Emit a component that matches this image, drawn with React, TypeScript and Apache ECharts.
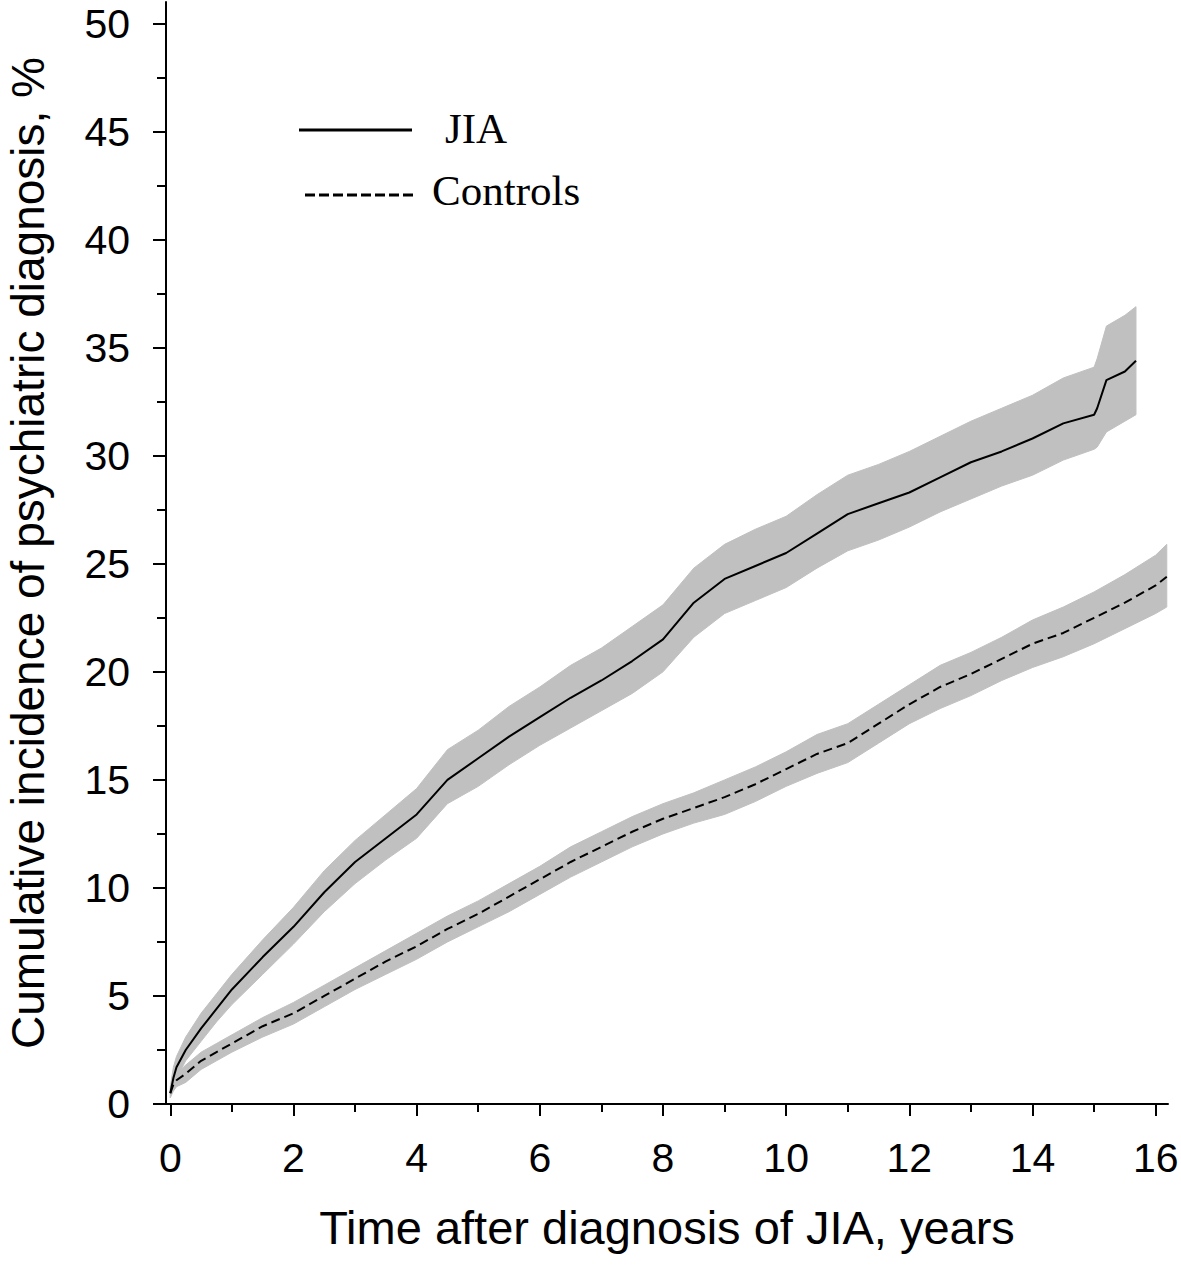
import React, { useEffect, useRef } from "react";
import * as echarts from "echarts";

// ---- Data ----
const jiaTimes = [0, 0.05, 0.1, 0.25, 0.5, 0.75, 1, 1.5, 2, 2.5, 3, 3.5, 4, 4.5, 5, 5.5, 6, 6.5, 7, 7.5, 8, 8.5, 9, 9.5, 10, 10.5, 11, 11.5, 12, 12.5, 13, 13.5, 14, 14.5, 15, 15.05, 15.2, 15.5, 15.68];
const jiaValues = [0.5, 1.2, 1.7, 2.5, 3.5, 4.4, 5.3, 6.8, 8.2, 9.8, 11.2, 12.3, 13.4, 15.0, 16.0, 17.0, 17.9, 18.8, 19.6, 20.5, 21.5, 23.2, 24.3, 24.9, 25.5, 26.4, 27.3, 27.8, 28.3, 29.0, 29.7, 30.2, 30.8, 31.5, 31.9, 32.2, 33.5, 33.9, 34.4];
const jiaUpper = [0.8, 1.7, 2.2, 3.1, 4.2, 5.1, 6.0, 7.6, 9.1, 10.8, 12.2, 13.4, 14.6, 16.4, 17.3, 18.4, 19.3, 20.3, 21.1, 22.1, 23.1, 24.8, 25.9, 26.6, 27.2, 28.2, 29.1, 29.6, 30.2, 30.9, 31.6, 32.2, 32.8, 33.6, 34.1, 34.5, 36.0, 36.5, 36.9];
const jiaLower = [0.3, 0.8, 1.2, 2.0, 2.9, 3.8, 4.6, 6.0, 7.4, 8.9, 10.2, 11.3, 12.3, 13.9, 14.7, 15.7, 16.6, 17.4, 18.2, 19.0, 20.0, 21.6, 22.7, 23.3, 23.9, 24.8, 25.6, 26.1, 26.7, 27.4, 28.0, 28.6, 29.1, 29.8, 30.3, 30.4, 31.1, 31.6, 31.9];

const ctrlTimes = [0, 0.05, 0.1, 0.25, 0.5, 0.75, 1, 1.5, 2, 2.5, 3, 3.5, 4, 4.5, 5, 5.5, 6, 6.5, 7, 7.5, 8, 8.5, 9, 9.5, 10, 10.5, 11, 11.5, 12, 12.5, 13, 13.5, 14, 14.5, 15, 15.5, 16, 16.18];
const ctrlValues = [0.5, 0.9, 1.1, 1.4, 2.0, 2.4, 2.8, 3.6, 4.2, 5.0, 5.8, 6.6, 7.3, 8.1, 8.8, 9.6, 10.4, 11.2, 11.9, 12.6, 13.2, 13.7, 14.2, 14.8, 15.5, 16.2, 16.7, 17.6, 18.5, 19.3, 19.9, 20.6, 21.3, 21.8, 22.5, 23.2, 24.0, 24.4];
const ctrlUpper = [0.7, 1.2, 1.4, 1.8, 2.4, 2.8, 3.2, 4.0, 4.7, 5.5, 6.3, 7.1, 7.9, 8.7, 9.4, 10.2, 11.0, 11.9, 12.6, 13.3, 13.9, 14.4, 15.0, 15.6, 16.3, 17.1, 17.6, 18.5, 19.4, 20.3, 20.9, 21.6, 22.4, 23.0, 23.7, 24.5, 25.4, 25.9];
const ctrlLower = [0.3, 0.6, 0.8, 1.0, 1.6, 2.0, 2.4, 3.1, 3.7, 4.5, 5.3, 6.0, 6.7, 7.5, 8.2, 8.9, 9.7, 10.5, 11.2, 11.9, 12.5, 13.0, 13.4, 14.0, 14.7, 15.3, 15.8, 16.7, 17.6, 18.3, 18.9, 19.6, 20.2, 20.7, 21.3, 22.0, 22.7, 23.0];

const xMajorTicks = [0, 2, 4, 6, 8, 10, 12, 14, 16];
const xMinorTicks = [1, 3, 5, 7, 9, 11, 13, 15];
const yMajorTicks = [0, 5, 10, 15, 20, 25, 30, 35, 40, 45, 50];
const yMinorTicks = [2.5, 7.5, 12.5, 17.5, 22.5, 27.5, 32.5, 37.5, 42.5, 47.5];

const xTitle = "Time after diagnosis of JIA, years";
const yTitle = "Cumulative incidence of psychiatric diagnosis, %";
const legendNames = ["JIA", "Controls"];

const SANS = '"Liberation Sans", Arial, sans-serif';
const SERIF = '"Liberation Serif", "Times New Roman", serif';
const BAND = "#c0c0c0";

function bandSeries(times: number[], lower: number[], upper: number[]) {
  return {
    type: "custom",
    coordinateSystem: "cartesian2d",
    xAxisIndex: 0,
    yAxisIndex: 0,
    silent: true,
    clip: true,
    z: 1,
    data: [[times[0], lower[0]]],
    encode: { x: 0, y: 1 },
    renderItem: (_params: any, api: any) => {
      const pts: number[][] = [];
      for (let i = 0; i < times.length; i++) pts.push(api.coord([times[i], upper[i]]));
      for (let i = times.length - 1; i >= 0; i--) pts.push(api.coord([times[i], lower[i]]));
      return {
        type: "polygon",
        shape: { points: pts },
        style: { fill: BAND, stroke: BAND, lineWidth: 1 },
      };
    },
  };
}

export default function App() {
  const ref = useRef<HTMLDivElement>(null);

  useEffect(() => {
    if (!ref.current) return;
    const chart = echarts.init(ref.current, undefined, { renderer: "svg" });
    const axisLineStyle = { color: "#000", width: 2 };

    chart.setOption({
      animation: false,
      backgroundColor: "#fff",
      grid: { left: 166, right: 13, top: 2, bottom: 161, containLabel: false, outerBoundsMode: "none" },
      xAxis: [
        {
          type: "value",
          position: "bottom",
          min: -0.07,
          max: 16.2,
          axisLine: { show: true, onZero: false, lineStyle: axisLineStyle },
          axisTick: { show: true, customValues: xMajorTicks, length: 12, lineStyle: axisLineStyle },
          axisLabel: { customValues: xMajorTicks, fontSize: 41, fontFamily: SANS, color: "#000", margin: 33 },
          splitLine: { show: false },
          name: xTitle,
          nameLocation: "middle",
          nameGap: 123,
          nameTextStyle: { fontSize: 47, fontFamily: SANS, color: "#000", verticalAlign: "middle" },
        },
        {
          type: "value",
          position: "bottom",
          min: -0.07,
          max: 16.2,
          axisLine: { show: false, onZero: false },
          axisTick: { show: true, customValues: xMinorTicks, length: 8, lineStyle: axisLineStyle },
          axisLabel: { show: false },
          splitLine: { show: false },
        },
      ],
      yAxis: [
        {
          type: "value",
          position: "left",
          min: 0,
          max: 51,
          axisLine: { show: true, onZero: false, lineStyle: axisLineStyle },
          axisTick: { show: true, customValues: yMajorTicks, length: 13, lineStyle: axisLineStyle },
          axisLabel: { customValues: yMajorTicks, fontSize: 41, fontFamily: SANS, color: "#000", margin: 36 },
          splitLine: { show: false },
          name: yTitle,
          nameLocation: "middle",
          nameRotate: 90,
          nameGap: 138,
          nameTextStyle: { fontSize: 46, fontFamily: SANS, color: "#000", verticalAlign: "middle" },
        },
        {
          type: "value",
          position: "left",
          min: 0,
          max: 51,
          axisLine: { show: false, onZero: false },
          axisTick: { show: true, customValues: yMinorTicks, length: 9, lineStyle: axisLineStyle },
          axisLabel: { show: false },
          splitLine: { show: false },
        },
      ],
      series: [
        bandSeries(jiaTimes, jiaLower, jiaUpper),
        bandSeries(ctrlTimes, ctrlLower, ctrlUpper),
        {
          type: "line",
          name: legendNames[0],
          xAxisIndex: 0,
          yAxisIndex: 0,
          data: jiaTimes.map((t, i) => [t, jiaValues[i]]),
          showSymbol: false,
          symbol: "none",
          color: "#000",
          lineStyle: { color: "#000", width: 2 },
          z: 3,
        },
        {
          type: "line",
          name: legendNames[1],
          xAxisIndex: 0,
          yAxisIndex: 0,
          data: ctrlTimes.map((t, i) => [t, ctrlValues[i]]),
          showSymbol: false,
          symbol: "none",
          color: "#000",
          lineStyle: { color: "#000", width: 2, type: [9, 5] },
          z: 3,
        },
      ],
      graphic: [
        {
          type: "line",
          shape: { x1: 299, y1: 130, x2: 412, y2: 130 },
          style: { stroke: "#000", lineWidth: 3 },
        },
        {
          type: "text",
          x: 445,
          y: 128,
          style: { text: legendNames[0], fontSize: 43, fontFamily: SERIF, fill: "#000", align: "left", verticalAlign: "middle" },
        },
        {
          type: "line",
          shape: { x1: 305, y1: 195, x2: 417, y2: 195 },
          style: { stroke: "#000", lineWidth: 3, lineDash: [10, 4] },
        },
        {
          type: "text",
          x: 432,
          y: 190,
          style: { text: legendNames[1], fontSize: 43, fontFamily: SERIF, fill: "#000", align: "left", verticalAlign: "middle" },
        },
      ],
    });

    return () => chart.dispose();
  }, []);

  return (
    <div
      ref={ref}
      style={{ position: "fixed", left: 0, top: 0, width: 1181, height: 1265, background: "#fff" }}
    />
  );
}
